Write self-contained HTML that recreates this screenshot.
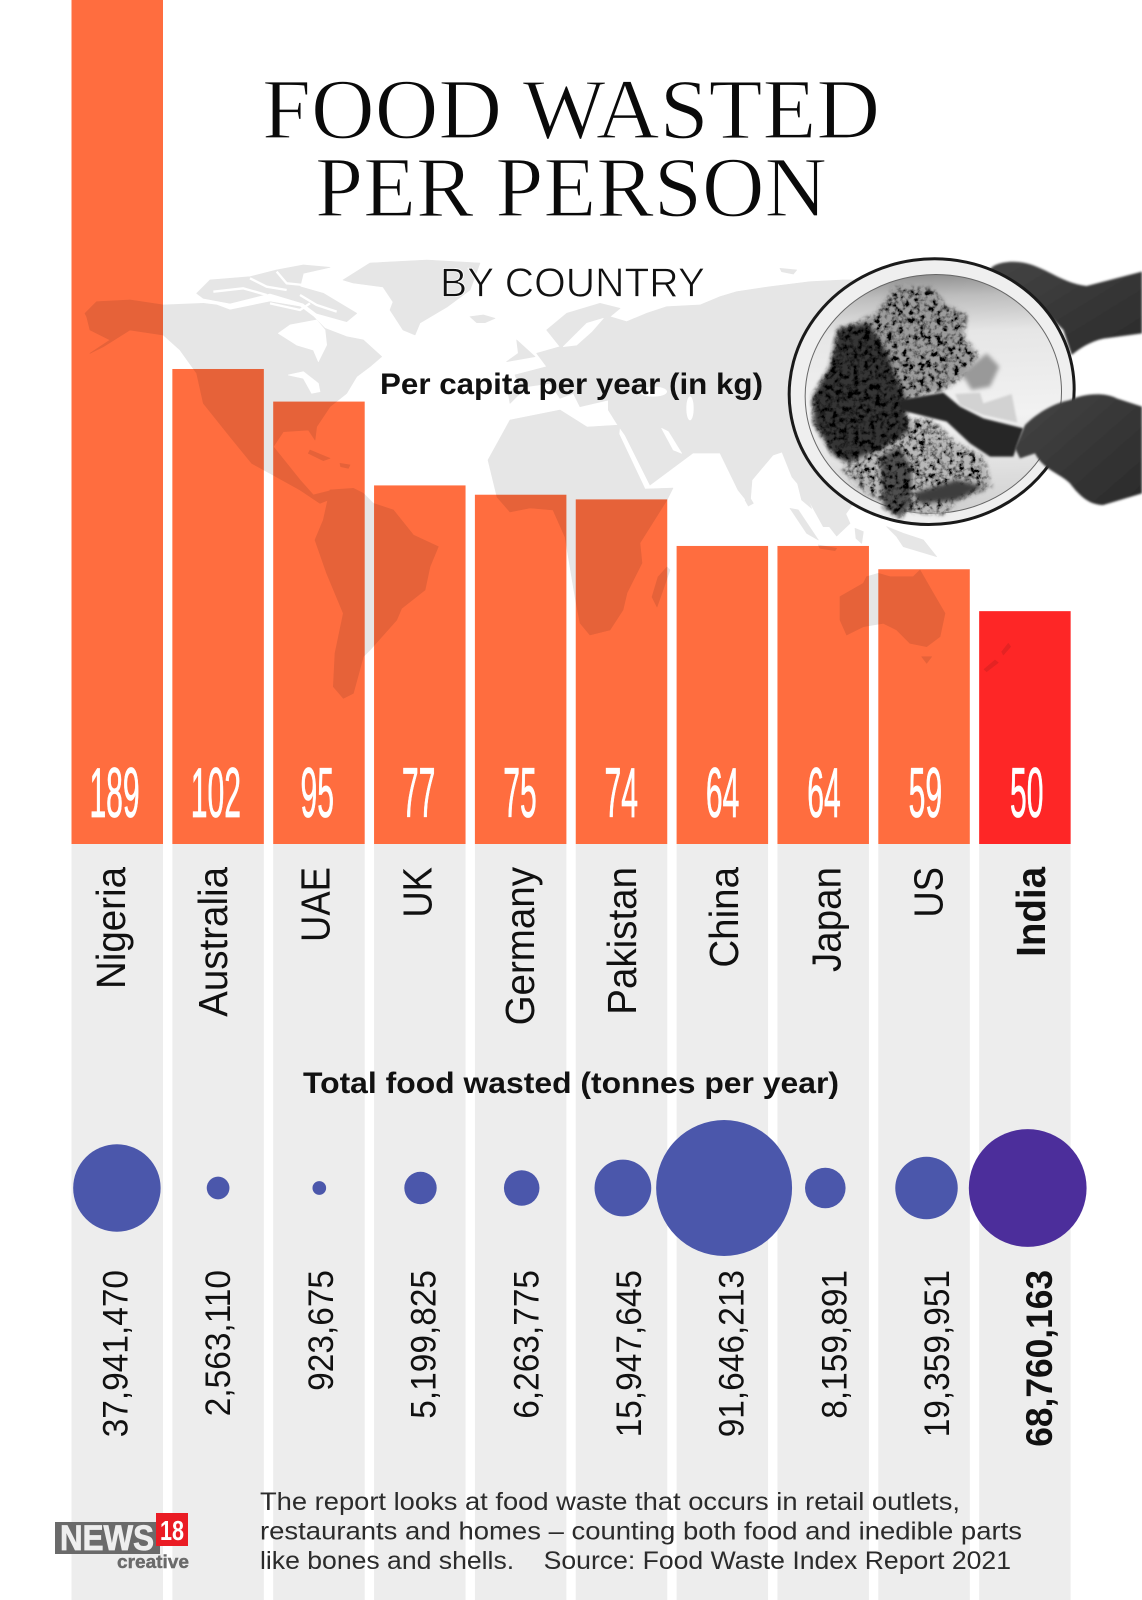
<!DOCTYPE html>
<html lang="en">
<head>
<meta charset="utf-8">
<title>Food Wasted Per Person</title>
<style>
html,body{margin:0;padding:0;background:#fff;}
svg{display:block;}
text{font-family:"Liberation Sans",sans-serif;}
.serif{font-family:"Liberation Serif",serif;}
</style>
</head>
<body>
<svg id="chart" xmlns="http://www.w3.org/2000/svg" width="1142" height="1600" viewBox="0 0 1142 1600">
  <defs>
    <filter id="grain" x="-5%" y="-5%" width="110%" height="110%">
      <feGaussianBlur in="SourceGraphic" stdDeviation="6" result="b"/>
      <feTurbulence type="fractalNoise" baseFrequency=".06" numOctaves="3" seed="4" result="n"/>
      <feColorMatrix in="n" type="matrix" values="0 0 0 0 0  0 0 0 0 0  0 0 0 0 0  3.4 0 0 0 -1.35" result="d"/>
      <feComposite in="d" in2="b" operator="in" result="dk"/>
      <feMerge><feMergeNode in="b"/><feMergeNode in="dk"/></feMerge>
    </filter>
    <filter id="soft" x="-10%" y="-10%" width="120%" height="120%"><feGaussianBlur stdDeviation="6"/></filter>
    <filter id="softer" x="-10%" y="-10%" width="120%" height="120%"><feGaussianBlur stdDeviation="3"/></filter>
    <linearGradient id="plate-grad" x1="0.62" y1="0" x2="0.5" y2="1">
      <stop offset="0" stop-color="#8c8c8c"/>
      <stop offset=".1" stop-color="#bdbdbd"/>
      <stop offset=".25" stop-color="#e6e6e6"/>
      <stop offset=".6" stop-color="#f2f2f2"/>
      <stop offset="1" stop-color="#d0d0d0"/>
    </linearGradient>
    <linearGradient id="hand-grad" x1="0" y1="0" x2="1" y2="1">
      <stop offset="0" stop-color="#454545"/>
      <stop offset="1" stop-color="#2a2a2a"/>
    </linearGradient>
  </defs>
  <rect width="1142" height="1600" fill="#fff"/>
  <g id="columns"></g>
  <g id="bars"></g>

  <g style="mix-blend-mode:multiply">
    <g transform="translate(70 250) scale(.33333)" fill="#e6e6e6" stroke="#e6e6e6" stroke-width="2" stroke-linejoin="round">
      <path d="M45 190 80 155 180 150 280 165 400 160 440 165 480 180 600 155 690 170 730 200 765 235 830 260 880 270 935 320 900 350 860 380 830 430 780 470 740 530 735 570 715 540 640 545 610 590 650 640 690 690 730 735 790 720 800 740 750 760 690 720 600 670 545 640 480 560 400 460 380 370 330 300 280 255 180 240 100 290 60 310 120 270 60 240 50 200Z"/>
      <path d="M380 130 420 90 540 80 620 60 700 45 780 52 700 70 690 110 760 130 860 190 830 215 740 190 700 160 600 130 480 160 400 145Z"/>
      <path fill="none" stroke="#fff" stroke-width="7" d="M430 125 520 115 590 135M540 85 590 110 650 120M620 65 650 100 700 105M690 135 740 165 800 185M600 160 690 180 720 160"/>
      <path d="M720 600 780 625 760 632 715 610ZM810 640 840 645 835 655 812 650Z"/>
      <path fill="#fff" stroke="#fff" d="M625 250 660 225 740 210 765 240 770 285 745 335 730 300 680 285Z"/>
      <path fill="#fff" stroke="#fff" d="M655 375 700 365 745 400 750 425 725 430 700 385Z"/>
    </g>
    <g fill="#e6e6e6" stroke="#e6e6e6" stroke-width=".6" stroke-linejoin="round">
      <path d="M343 280 370 263 427 260 480 263 470 290 447 307 420 323 415 335 403 330 390 310 393 302 383 287 353 283Z"/>
      <path d="M488 460 510 420 560 410 587 427 620 425 619 434 645 489 673 488 667 500 640 543 642 563 627 593 623 610 610 630 590 635 580 623 575 597 565 537 553 510 530 508 510 512 497 497Z"/>
      <path d="M667 567 658 577 652 597 657 607 663 590 670 570Z"/>
    </g>
    <g transform="translate(270 480) scale(.33333)" fill="#e6e6e6" stroke="#e6e6e6" stroke-width="2" stroke-linejoin="round">
      <path d="M180 30 250 25 280 40 310 70 370 90 430 165 505 200 480 260 465 330 395 385 380 420 340 465 300 510 280 530 250 640 220 655 190 620 195 520 220 400 170 280 135 180 160 120Z"/>
    </g>
    <g transform="translate(460 250) scale(.33333)" fill="#e6e6e6" stroke="#e6e6e6" stroke-width="2" stroke-linejoin="round">
      <path d="M260 240 320 190 420 160 480 175 450 200 500 215 560 190 620 170 720 165 780 140 830 125 930 110 1050 95 1150 90 1400 90 1400 700 1180 760 1130 830 1090 830 1029 720 996 681 966 606 939 615 876 690 870 765 834 720 780 609 699 609 570 705 495 555 470 520 445 480 445 450 360 470 340 430 300 445 270 400 200 410 150 460 145 430 175 400 165 375 260 350 230 310 300 290Z"/>
      <path d="M170 270 225 320 140 335 175 310Z"/>
      <path d="M30 200 70 195 105 205 75 218 50 218Z"/>
      <path d="M960 55 1010 60 1000 72 965 65Z"/>
      <path fill="#fff" stroke="#fff" d="M310 290 380 220 430 205 395 245 350 285Z"/>
      <ellipse cx="580" cy="425" rx="40" ry="14" fill="#fff" stroke="#fff"/>
      <ellipse cx="690" cy="475" rx="10" ry="35" fill="#fff" stroke="#fff"/>
      <path fill="#fff" stroke="#fff" d="M605 535 625 545 665 610 640 600Z"/>
    </g>
    <g transform="translate(670 480) scale(.33333)" fill="#e6e6e6" stroke="#e6e6e6" stroke-width="2" stroke-linejoin="round">
      <path d="M235 45 250 70 235 78 225 60Z"/>
      <path d="M380 0 470 0 430 45 400 25 425 85 395 60Z"/>
      <path d="M360 85 385 90 445 180 410 160Z"/>
      <path d="M445 195 500 205 495 212 450 205Z"/>
      <path d="M520 85 540 130 500 168 470 130Z"/>
      <path d="M555 145 580 155 575 190 558 175Z"/>
      <path d="M650 140 700 160 760 180 800 230 700 200 680 170Z"/>
      <path d="M510 350 580 310 590 290 625 280 660 290 730 290 750 270 790 340 825 400 810 470 770 500 720 490 680 450 640 430 580 440 530 465 510 420Z"/>
      <path d="M755 530 785 530 770 550Z"/>
      <path d="M1015 490 1022 500 1000 525 995 515ZM975 540 985 548 950 575 942 568Z"/>
    </g>
  </g>

  <g transform="translate(770 240) scale(.33333)">
    <path filter="url(#softer)" fill="url(#hand-grad)" d="M660 88C670 70 720 58 770 70C830 85 880 130 950 138L1116 95 1116 280 1000 296C960 305 930 325 905 345L880 270 800 190 720 125 670 112Z"/>
    <g>
      <ellipse cx="485" cy="455" rx="428" ry="398" fill="#efefef" stroke="#1a1a1a" stroke-width="9" transform="rotate(-8 485 455)"/>
      <ellipse cx="490" cy="462" rx="385" ry="358" fill="url(#plate-grad)" stroke="#666" stroke-width="3" transform="rotate(-8 490 462)"/>
      <path filter="url(#grain)" fill="#9c9c9c" d="M375 140 490 145 520 190 590 225 580 290 625 345 580 410 520 450 400 480 330 400 220 340 210 270 320 220Z"/>
      <path filter="url(#grain)" fill="#b8b8b8" d="M380 540 480 535 560 610 640 650 665 740 560 785 520 825 420 815 290 760 215 690 280 640Z"/>
      <path filter="url(#grain)" fill="#343434" d="M205 265 295 250 350 335 375 410 405 470 415 575 335 625 230 668 190 645 132 550 128 470 180 380Z"/>
      <path filter="url(#grain)" fill="#505050" d="M330 650 390 620 425 690 425 790 390 835 340 800Z"/>
      <path filter="url(#soft)" fill="#3c3c3c" d="M430 760 560 720 640 740 560 780 450 790Z"/>
      <path filter="url(#soft)" fill="#999" d="M575 400 650 340 688 380 660 440 605 450Z"/>
      <path filter="url(#softer)" fill="#d2d2d2" d="M555 462 630 458 640 490 725 462 742 548 640 525 570 495Z"/>
      <path filter="url(#softer)" fill="#262626" d="M390 480 520 458 570 500 640 535 760 565 730 650 660 650 600 610 530 545 390 510Z"/>
    </g>
    <path filter="url(#softer)" fill="url(#hand-grad)" d="M735 625 765 555C800 520 850 490 900 480C940 462 1000 455 1040 475L1116 500 1116 760 1000 795C960 795 930 770 900 730C870 700 820 690 795 640L750 655Z"/>
  </g>

  <text class="serif" x="262" y="138" font-size="86" fill="#0a0a0a" stroke="#fff" stroke-width="1.3" textLength="618" lengthAdjust="spacingAndGlyphs">FOOD WASTED</text>
  <text class="serif" x="315" y="216" font-size="86" fill="#0a0a0a" stroke="#fff" stroke-width="1.3" textLength="512" lengthAdjust="spacingAndGlyphs">PER PERSON</text>
  <text x="440" y="296.5" font-size="41" fill="#111" stroke="#fff" stroke-width=".8" textLength="265" lengthAdjust="spacingAndGlyphs">BY COUNTRY</text>
  <text x="380" y="394" font-size="30" font-weight="700" fill="#111" textLength="383" lengthAdjust="spacingAndGlyphs">Per capita per year (in kg)</text>

  <g id="value-labels"></g>
  <g id="country-labels"></g>

  <text x="303" y="1093" font-size="30" font-weight="700" fill="#111" textLength="536" lengthAdjust="spacingAndGlyphs">Total food wasted (tonnes per year)</text>

  <g id="bubbles"></g>
  <g id="total-labels"></g>

  <g>
    <rect x="55" y="1522" width="105" height="32" fill="#6a6a6a"/>
    <text x="60" y="1550" font-size="35" font-weight="700" fill="#eee" stroke="#eee" stroke-width=".8" textLength="94" lengthAdjust="spacingAndGlyphs">NEWS</text>
    <rect x="156" y="1513" width="32" height="33" fill="#ea1c24"/>
    <text x="160" y="1540" font-size="28" font-weight="700" fill="#fff" textLength="24" lengthAdjust="spacingAndGlyphs">18</text>
    <text x="117" y="1568" font-size="18" font-weight="700" fill="#6a6a6a" stroke="#6a6a6a" stroke-width=".4" textLength="72" lengthAdjust="spacingAndGlyphs">creative</text>
  </g>

  <g font-size="25" fill="#2b2b2b">
    <text x="260" y="1510" textLength="700" lengthAdjust="spacingAndGlyphs">The report looks at food waste that occurs in retail outlets,</text>
    <text x="260" y="1539.5" textLength="762" lengthAdjust="spacingAndGlyphs">restaurants and homes – counting both food and inedible parts</text>
    <text x="260" y="1569" textLength="751" lengthAdjust="spacingAndGlyphs" xml:space="preserve">like bones and shells.    Source: Food Waste Index Report 2021</text>
  </g>
</svg>
<script>
var countries = ["Nigeria","Australia","UAE","UK","Germany","Pakistan","China","Japan","US","India"];
var perCapitaKg = [189,102,95,77,75,74,64,64,59,50];
var totalTonnes = [37941470,2563110,923675,5199825,6263775,15947645,91646213,8159891,19359951,68760163];
var highlightCountry = "India";

var SVGNS = "http://www.w3.org/2000/svg";
var BASELINE = 844, BAR_W = 91.5, BUBBLE_Y = 1188;
function xLeft(i){ return 71.5 + 100.85 * i; }
function xCenter(i){ return xLeft(i) + BAR_W / 2; }
function xBubble(i){ return 116.9 + 101.2 * i; }
function yScale(v){ return BASELINE - v * 4.657; }
function rScale(t){ return 7.1 * Math.sqrt(t / 1e6); }
function make(tag, parentId){
  var el = document.createElementNS(SVGNS, tag);
  document.getElementById(parentId).appendChild(el);
  return el;
}

countries.forEach(function(name, i){
  var hi = name === highlightCountry;

  var col = make("rect", "columns");
  
  
  col.setAttribute("x", xLeft(i));
  col.setAttribute("y", BASELINE);
  col.setAttribute("width", BAR_W);
  col.setAttribute("height", 1600 - BASELINE);
  col.setAttribute("fill", "#ededed");

  var bar = make("rect", "bars");
  
  
  bar.setAttribute("x", xLeft(i));
  bar.setAttribute("y", yScale(perCapitaKg[i]));
  bar.setAttribute("width", BAR_W);
  bar.setAttribute("height", BASELINE - yScale(perCapitaKg[i]));
  bar.setAttribute("fill", hi ? "#fe2626" : "#ff6d3f");

  var val = make("text", "value-labels");
  
  
  val.setAttribute("transform", "translate(" + (xCenter(i) - 2.7 + 0.5 * i) + " 817) scale(.43 1.01)");
  val.setAttribute("text-anchor", "middle");
  val.setAttribute("font-size", "70");
  val.setAttribute("fill", "#fff");
  val.setAttribute("stroke", "#fff");
  val.setAttribute("stroke-width", ".8");
  val.textContent = perCapitaKg[i];

  var cn = make("text", "country-labels");
  
  
  cn.setAttribute("transform", "translate(" + (125 + 102.2 * i) + " 867) rotate(-90) scale(" + (name.length <= 3 ? 0.89 : 0.94) + " 1)");
  cn.setAttribute("text-anchor", "end");
  cn.setAttribute("font-size", "41");
  cn.setAttribute("font-weight", hi ? "700" : "400");
  cn.setAttribute("fill", "#111");
  cn.textContent = name;

  var bub = make("circle", "bubbles");
  
  
  bub.setAttribute("cx", xBubble(i));
  bub.setAttribute("cy", BUBBLE_Y);
  bub.setAttribute("r", rScale(totalTonnes[i]));
  bub.setAttribute("fill", hi ? "#4c2e9b" : "#4b57ab");

  var tot = make("text", "total-labels");
  
  
  tot.setAttribute("transform", "translate(" + (127.5 + 102.7 * i) + " 1270) rotate(-90) scale(.955 1)");
  tot.setAttribute("text-anchor", "end");
  tot.setAttribute("font-size", hi ? "37" : "35");
  tot.setAttribute("font-weight", hi ? "700" : "400");
  tot.setAttribute("fill", "#111");
  tot.textContent = totalTonnes[i].toLocaleString("en-US");
});
</script>
</body>
</html>
